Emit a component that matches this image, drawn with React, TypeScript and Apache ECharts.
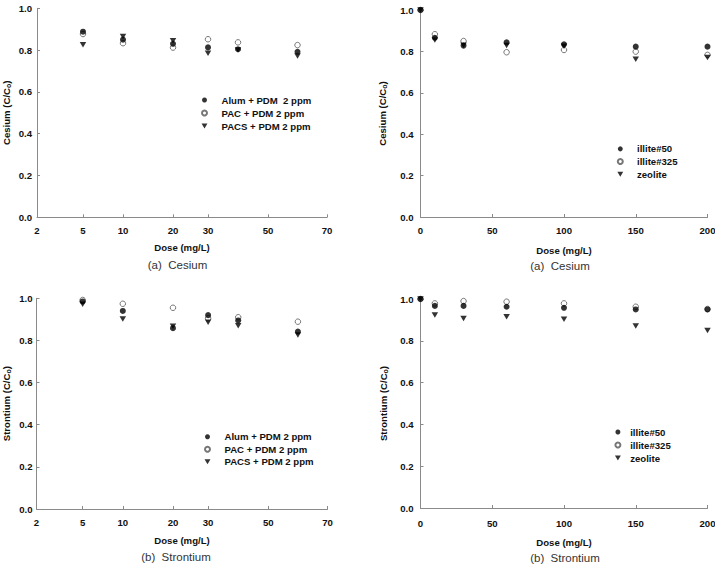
import React, { useEffect, useRef } from "react";
import * as echarts from "echarts";

// ---- data ----
const COAG_DOSES = [5, 10, 20, 30, 40, 60];
const COAG_TICKS = [2, 5, 10, 20, 30, 50, 70];
const MIN_DOSES = [0, 10, 30, 60, 100, 150, 200];

const CS_ALUM = [0.888, 0.85, 0.83, 0.813, 0.804, 0.792];
const CS_PAC = [0.877, 0.833, 0.812, 0.852, 0.837, 0.824];
const CS_PACS = [0.826, 0.865, 0.845, 0.785, 0.8, 0.772];

const SR_ALUM = [0.985, 0.94, 0.858, 0.92, 0.895, 0.842];
const SR_PAC = [0.992, 0.974, 0.955, 0.905, 0.91, 0.889];
const SR_PACS = [0.972, 0.902, 0.867, 0.886, 0.87, 0.826];

const CS_ILL50 = [1.0, 0.866, 0.828, 0.844, 0.834, 0.823, 0.823];
const CS_ILL325 = [1.0, 0.883, 0.85, 0.796, 0.807, 0.799, 0.783];
const CS_ZEO = [1.0, 0.855, 0.83, 0.828, 0.825, 0.762, 0.77];

const SR_ILL50 = [1.0, 0.967, 0.967, 0.963, 0.958, 0.95, 0.95];
const SR_ILL325 = [1.0, 0.979, 0.99, 0.987, 0.979, 0.963, 0.952];
const SR_ZEO = [1.0, 0.923, 0.907, 0.915, 0.903, 0.871, 0.849];

const LEG_CS_COAG = ["Alum + PDM  2 ppm", "PAC + PDM 2 ppm", "PACS + PDM 2 ppm"];
const LEG_SR_COAG = ["Alum + PDM 2 ppm", "PAC + PDM 2 ppm", "PACS + PDM 2 ppm"];
const LEG_MIN = ["illite#50", "illite#325", "zeolite"];

// layout of the irregular (hand-spaced) dose axis of the coagulant panels
const COAG_TICK_FRAC = [0, 0.1586, 0.2966, 0.469, 0.5897, 0.7966, 1];

function coagScale(d: number): number {
  for (let i = 0; i < COAG_TICKS.length - 1; i++) {
    const a = COAG_TICKS[i];
    const b = COAG_TICKS[i + 1];
    if (d <= b) {
      return COAG_TICK_FRAC[i] + ((d - a) / (b - a)) * (COAG_TICK_FRAC[i + 1] - COAG_TICK_FRAC[i]);
    }
  }
  return 1;
}

const FONT = "'Liberation Sans', Arial, sans-serif";
const AX_COLOR = "#8a8a8a";
const TRI = "path://M0,0L10,0L5,8.5Z";

function axisName(word: string) {
  return `{n|${word} (C/C}{s|o}{n|)}`;
}

const nameRich = {
  n: { fontSize: 9.6, fontWeight: "bold", fontFamily: FONT, color: "#111", lineHeight: 12 },
  s: { fontSize: 7, fontWeight: "bold", fontFamily: FONT, color: "#111", lineHeight: 7, verticalAlign: "bottom" },
};

const tickLabel = { fontSize: 9.6, fontWeight: "bold", fontFamily: FONT, color: "#111" };

function yAxis(gridIndex: number, word: string, nameGap: number, labelMargin: number) {
  return {
    type: "value",
    gridIndex,
    min: 0,
    max: 1,
    interval: 0.2,
    name: axisName(word),
    nameLocation: "middle",
    nameGap,
    nameTextStyle: { rich: nameRich },
    axisLine: { show: true, lineStyle: { color: AX_COLOR, width: 1 } },
    axisTick: { show: true, inside: true, length: 3, lineStyle: { color: AX_COLOR } },
    axisLabel: { ...tickLabel, margin: labelMargin, formatter: (v: number) => v.toFixed(1) },
    splitLine: { show: false },
  };
}

function xCoag(gridIndex: number, nameGap: number, labelMargin: number) {
  return {
    type: "value",
    gridIndex,
    min: 0,
    max: 1,
    name: "Dose (mg/L)",
    nameLocation: "middle",
    nameGap,
    nameTextStyle: { ...tickLabel },
    axisLine: { show: true, onZero: false, lineStyle: { color: AX_COLOR, width: 1 } },
    axisTick: { show: true, inside: true, length: 3, customValues: COAG_TICK_FRAC, lineStyle: { color: AX_COLOR } },
    axisLabel: {
      ...tickLabel,
      margin: labelMargin,
      customValues: COAG_TICK_FRAC,
      formatter: (v: number) => {
        const i = COAG_TICK_FRAC.findIndex((f) => Math.abs(f - v) < 1e-6);
        return i >= 0 ? String(COAG_TICKS[i]) : "";
      },
    },
    splitLine: { show: false },
  };
}

function xMin(gridIndex: number, nameGap: number, labelMargin: number) {
  return {
    type: "value",
    gridIndex,
    min: 0,
    max: 200,
    interval: 50,
    name: "Dose (mg/L)",
    nameLocation: "middle",
    nameGap,
    nameTextStyle: { ...tickLabel },
    axisLine: { show: true, onZero: false, lineStyle: { color: AX_COLOR, width: 1 } },
    axisTick: { show: true, inside: true, length: 3, lineStyle: { color: AX_COLOR } },
    axisLabel: { ...tickLabel, margin: labelMargin },
    splitLine: { show: false },
  };
}

type Kind = "filled" | "open" | "tri";

function series(name: string, axisIndex: number, xs: number[], ys: number[], kind: Kind) {
  const base: any = {
    type: "scatter",
    name,
    xAxisIndex: axisIndex,
    yAxisIndex: axisIndex,
    clip: false,
    data: xs.map((x, i) => [x, ys[i]]),
  };
  if (kind === "filled") {
    base.symbol = "circle";
    base.symbolSize = 6;
    base.itemStyle = { color: "#000" };
  } else if (kind === "open") {
    base.symbol = "circle";
    base.symbolSize = 5.5;
    base.itemStyle = { color: "#fff", borderColor: "#555", borderWidth: 1 };
  } else {
    base.symbol = TRI;
    base.symbolSize = [6.5, 5.5];
    base.itemStyle = { color: "#000" };
  }
  return base;
}

function legend(names: string[], left: number, top: number, itemWidth: number, lineHeight: number) {
  return {
    orient: "vertical",
    left,
    top,
    padding: 0,
    itemGap: 0,
    itemWidth,
    itemHeight: 5,
    symbolKeepAspect: true,
    selectedMode: false,
    data: names,
    textStyle: { fontSize: 9.6, fontWeight: "bold", fontFamily: FONT, color: "#111", lineHeight },
  };
}

function caption(text: string, x: number, y: number) {
  return {
    text,
    left: x,
    top: y,
    textAlign: "center",
    textVerticalAlign: "middle",
    padding: 0,
    textStyle: { fontSize: 11.5, fontWeight: "normal", fontFamily: FONT, color: "#333" },
  };
}

export default function App() {
  const ref = useRef<HTMLDivElement>(null);

  useEffect(() => {
    if (!ref.current) return;
    const chart = echarts.init(ref.current, undefined, { renderer: "svg" });
    const coagX = COAG_DOSES.map(coagScale);
    const option: any = {
      animation: false,
      backgroundColor: "#fff",
      grid: [
        { left: 37, top: 8.3, width: 290, height: 209, outerBoundsMode: "none", containLabel: false },
        { left: 420.5, top: 10, width: 287, height: 207, outerBoundsMode: "none", containLabel: false },
        { left: 36.5, top: 298.3, width: 291, height: 210.7, outerBoundsMode: "none", containLabel: false },
        { left: 420.5, top: 299, width: 287, height: 209, outerBoundsMode: "none", containLabel: false },
      ],
      xAxis: [xCoag(0, 25, 8), xMin(1, 28, 8), xCoag(2, 26, 8), xMin(3, 29, 10)],
      yAxis: [
        yAxis(0, "Cesium", 25, 5),
        yAxis(1, "Cesium", 32.5, 7),
        yAxis(2, "Strontium", 24.5, 4),
        yAxis(3, "Strontium", 31.5, 7),
      ],
      legend: [
        legend(LEG_CS_COAG, 201, 93.5, 24, 13),
        legend(LEG_MIN, 616.8, 142.5, 23.4, 12.7),
        legend(LEG_SR_COAG, 204, 430.5, 24, 12.5),
        legend(LEG_MIN, 614.4, 425.5, 14.6, 13),
      ],
      title: [
        caption("(a)  Cesium", 177.5, 265),
        caption("(a)  Cesium", 560, 266),
        caption("(b)  Strontium", 176, 556.7),
        caption("(b)  Strontium", 565, 558),
      ],
      series: [
        series(LEG_CS_COAG[1], 0, coagX, CS_PAC, "open"),
        series(LEG_CS_COAG[0], 0, coagX, CS_ALUM, "filled"),
        series(LEG_CS_COAG[2], 0, coagX, CS_PACS, "tri"),

        series(LEG_MIN[1], 1, MIN_DOSES, CS_ILL325, "open"),
        series(LEG_MIN[0], 1, MIN_DOSES, CS_ILL50, "filled"),
        series(LEG_MIN[2], 1, MIN_DOSES, CS_ZEO, "tri"),

        series(LEG_SR_COAG[1], 2, coagX, SR_PAC, "open"),
        series(LEG_SR_COAG[0], 2, coagX, SR_ALUM, "filled"),
        series(LEG_SR_COAG[2], 2, coagX, SR_PACS, "tri"),

        series(LEG_MIN[1], 3, MIN_DOSES, SR_ILL325, "open"),
        series(LEG_MIN[0], 3, MIN_DOSES, SR_ILL50, "filled"),
        series(LEG_MIN[2], 3, MIN_DOSES, SR_ZEO, "tri"),
      ],
    };
    chart.setOption(option);
    return () => chart.dispose();
  }, []);

  return (
    <div
      ref={ref}
      style={{ position: "absolute", left: 0, top: 0, width: 715, height: 570, background: "#fff" }}
    />
  );
}
